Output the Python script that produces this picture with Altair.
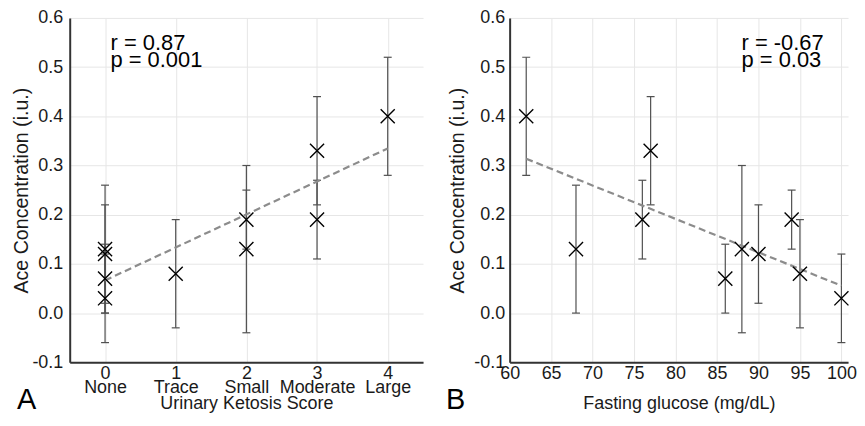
import altair as alt
import pandas as pd

# ---- data ----
ace_conc = [0.40, 0.33, 0.19, 0.19, 0.13, 0.08, 0.13, 0.12, 0.07, 0.03]
ace_low = [0.28, 0.22, 0.11, 0.13, -0.04, -0.03, 0.00, 0.02, 0.00, -0.06]
ace_high = [0.52, 0.44, 0.27, 0.25, 0.30, 0.19, 0.26, 0.22, 0.14, 0.12]
ketosis_score = [4, 3, 3, 2, 2, 1, 0, 0, 0, 0]
fasting_glucose = [62, 77, 76, 94, 88, 95, 68, 90, 86, 100]

ketosis_ticks = [0, 1, 2, 3, 4]
ketosis_names = ["None", "Trace", "Small", "Moderate", "Large"]
glucose_ticks = [60, 65, 70, 75, 80, 85, 90, 95, 100]
y_ticks = [-0.1, 0.0, 0.1, 0.2, 0.3, 0.4, 0.5, 0.6]

stats_a = "r = 0.87\np = 0.001"
stats_b = "r = -0.67\np = 0.03"
panel_labels = ["A", "B"]

df = pd.DataFrame({
    "ace": ace_conc, "lo": ace_low, "hi": ace_high,
    "ketosis": ketosis_score, "glucose": fasting_glucose,
})

FONT = "Liberation Sans"
XPATH = "M-1,-1L1,1M-1,1L1,-1"
EBAR = "#505050"
H = 346


def panel(xfield, xdomain, xticks, xtitle, label_expr, width, label_pad_y,
          title_pad_y, title_pad_x, stats, stats_x, letter, letter_x):
    base = alt.Chart(df)
    xscale = alt.Scale(domain=xdomain, nice=False, zero=False)
    yscale = alt.Scale(domain=[-0.1, 0.6], nice=False, zero=False)
    xaxis_kw = dict(values=xticks, title=xtitle, titlePadding=title_pad_x,
                    format="d", labelFlush=False)
    if label_expr:
        xaxis_kw["labelExpr"] = label_expr
    xaxis = alt.Axis(**xaxis_kw)
    yaxis = alt.Axis(values=y_ticks, title="Ace Concentration (i.u.)",
                     labelExpr="replace(format(datum.value, '.1f'), '\u2212', '-')",
                     labelPadding=label_pad_y, titlePadding=title_pad_y)
    x = alt.X(f"{xfield}:Q", scale=xscale, axis=xaxis)
    bars = base.mark_rule(color=EBAR, strokeWidth=1.2).encode(
        x=x, y=alt.Y("lo:Q", scale=yscale, axis=yaxis), y2="hi:Q")
    cap_lo = base.mark_tick(orient="horizontal", size=8, thickness=1.2,
                            color=EBAR, opacity=1).encode(
        x=f"{xfield}:Q", y="lo:Q")
    cap_hi = base.mark_tick(orient="horizontal", size=8, thickness=1.2,
                            color=EBAR, opacity=1).encode(
        x=f"{xfield}:Q", y="hi:Q")
    reg = base.transform_regression(xfield, "ace").mark_line(
        color="#8c8c8c", strokeDash=[7, 4], strokeWidth=2.2).encode(
        x=f"{xfield}:Q", y="ace:Q")
    pts = base.mark_point(shape=XPATH, size=200, filled=False, color="black",
                          strokeWidth=1.4, opacity=1).encode(
        x=f"{xfield}:Q", y="ace:Q")
    txt = alt.Chart(pd.DataFrame({"t": [stats]})).mark_text(
        align="left", baseline="alphabetic", fontSize=22, font=FONT,
        lineBreak="\n", lineHeight=17, color="black").encode(
        text="t:N", x=alt.value(stats_x), y=alt.value(32))
    lab = alt.Chart(pd.DataFrame({"t": [letter]})).mark_text(
        align="left", baseline="alphabetic", fontSize=29, font=FONT,
        color="black").encode(
        text="t:N", x=alt.value(letter_x), y=alt.value(H + 47))
    return alt.layer(bars, cap_lo, cap_hi, reg, pts, txt, lab).properties(
        width=width, height=H)


names_js = "[" + ",".join(f"'{n}'" for n in ketosis_names) + "]"
left = panel("ketosis", [-0.5, 4.5], ketosis_ticks, "Urinary Ketosis Score",
             f"[datum.label, {names_js}[datum.value]]", 355, 7, 0, -2,
             stats_a, 41, panel_labels[0], -53)
right = panel("glucose", [60, 100.8], glucose_ticks, "Fasting glucose (mg/dL)",
              None, 340, 5, 6, 12, stats_b, 233, panel_labels[1], -64)

chart = alt.hconcat(left, right, spacing=23).properties(
    padding={"left": 3, "top": 0, "right": 0, "bottom": -2}
).configure_view(stroke=None).configure_axis(
    labelFont=FONT, titleFont=FONT, labelFontSize=18, titleFontSize=18,
    labelColor="#1a1a1a", titleColor="#1a1a1a", titleFontWeight="normal",
    domainColor="#333333", domainWidth=2, ticks=False,
    gridColor="#e6e6e6", gridWidth=1, labelLineHeight=14,
).configure_axisX(labelPadding=2).configure_axisY(titleFontSize=19.7)

chart.save("out.html", embed_options={"renderer": "svg", "actions": False})
